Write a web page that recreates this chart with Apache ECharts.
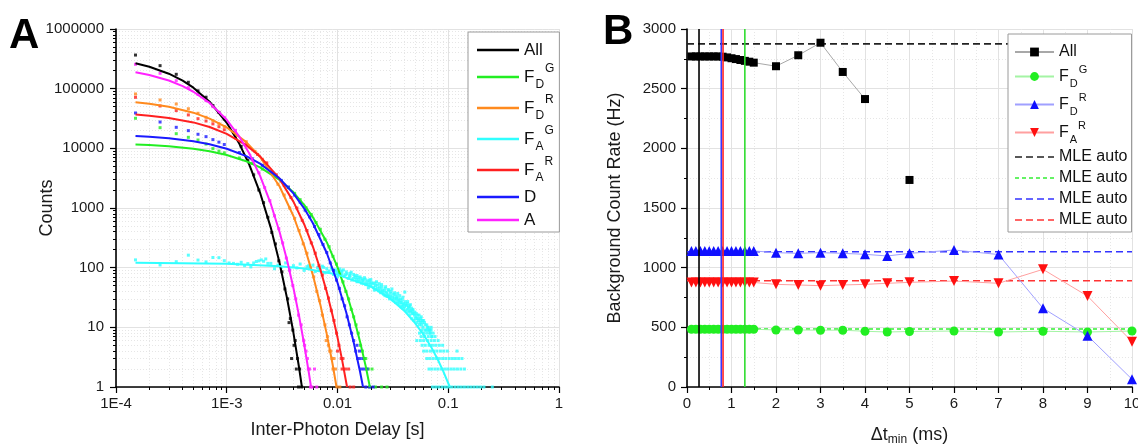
<!DOCTYPE html>
<html><head><meta charset="utf-8">
<script src="https://cdn.jsdelivr.net/npm/echarts@6/dist/echarts.min.js"></script>
<style>html,body{margin:0;padding:0;background:#fff}#c{width:1138px;height:447px}</style>
</head><body><div id="c"></div><script>
// ---------------- Panel A data (Inter-photon delay histograms, log-log) ----------------
const xTickLabelsA = ['1E-4','1E-3','0.01','0.1','1'];
const yTickLabelsA = ['1','10','100','1000','10000','100000','1000000'];
const seriesNamesA = ['All','FDG','FDR','FAG','FAR','D','A'];

const curveAll = [[1.5e-4,267000],[2e-4,233000],[3e-4,178000],[4e-4,136000],[5e-4,104000],[7e-4,60400],[1e-3,26800],[1.3e-3,11900],[1.6e-3,5300],[2e-3,1800],[2.5e-3,465],[3e-3,120],[3.5e-3,31],[4e-3,8.1],[4.5e-3,2.1],[4.77e-3,1]];
const curveFDG = [[1.5e-4,11600],[2e-4,11400],[3e-4,10800],[5e-4,9830],[7e-4,8930],[1e-3,7730],[1.5e-3,6080],[2e-3,4780],[3e-3,2960],[4e-3,1830],[5e-3,1130],[6e-3,698],[8e-3,267],[1e-2,102],[1.2e-2,39],[1.4e-2,14.9],[1.6e-2,5.7],[1.8e-2,2.2],[1.96e-2,1]];
const curveFDR = [[1.5e-4,59000],[2e-4,55800],[3e-4,49700],[5e-4,39600],[7e-4,31500],[1e-3,22400],[1.5e-3,12700],[2e-3,7170],[3e-3,2295],[4e-3,735],[5e-3,235],[6e-3,75],[7e-3,24],[8e-3,7.7],[9e-3,2.5],[9.8e-3,1]];
const curveFAG = [[1.5e-4,121],[1e-3,116.5],[3e-3,106],[5e-3,96.7],[1e-2,76.6],[2e-2,48.1],[3e-2,30.2],[4e-2,19],[5e-2,11.9],[6e-2,7.5],[7e-2,4.7],[8e-2,2.95],[9e-2,1.85],[0.1033,1]];
const curveFAR = [[1.5e-4,36900],[2e-4,35200],[3e-4,32300],[5e-4,27200],[7e-4,22800],[1e-3,17500],[1.5e-3,11300],[2e-3,7330],[3e-3,3060],[4e-3,1280],[5e-3,535],[6e-3,224],[7e-3,93],[8e-3,39],[9e-3,16.3],[1e-2,6.8],[1.1e-2,2.85],[1.22e-2,1]];
const curveD = [[1.5e-4,16100],[2e-4,15600],[3e-4,14750],[5e-4,13100],[7e-4,11700],[1e-3,9840],[1.5e-3,7390],[2e-3,5540],[3e-3,3120],[4e-3,1755],[5e-3,988],[6e-3,556],[8e-3,176],[1e-2,55.9],[1.2e-2,17.7],[1.4e-2,5.6],[1.6e-2,1.78],[1.7e-2,1]];
const curveA = [[1.5e-4,189000],[2e-4,170000],[3e-4,137000],[4e-4,110000],[5e-4,88800],[7e-4,57700],[1e-3,30100],[1.3e-3,15700],[1.6e-3,8200],[2e-3,3450],[2.5e-3,1170],[3e-3,396],[3.5e-3,134],[4e-3,45.5],[4.5e-3,15.4],[5e-3,5.2],[5.5e-3,1.77],[5.77e-3,1]];

const ptsAll = [[1.5e-4,366000],[2.5e-4,243000],[3.5e-4,174000],[4.5e-4,128000],[5.5e-4,92000],[6.5e-4,72000],[7.5e-4,52000],[8.5e-4,40000],[9.5e-4,31000],[1.15e-3,18500],[1.35e-3,10800],[1.55e-3,6300],[1.75e-3,3600],[1.95e-3,2000],[2.15e-3,1230],[2.35e-3,700],[2.55e-3,390],[2.75e-3,250],[2.95e-3,130],[3.15e-3,85],[3.35e-3,44],[3.55e-3,30],[3.65e-3,12],[3.75e-3,14],[3.85e-3,3],[3.95e-3,9],[4.05e-3,5],[4.15e-3,6],[4.25e-3,2],[4.35e-3,3],[4.45e-3,1],[4.55e-3,2],[4.75e-3,1]];
const ptsFDG = [[1.5e-4,31900],[2.5e-4,22200],[3.5e-4,17600],[4.5e-4,15300],[5.5e-4,13800],[6.5e-4,11800],[7.5e-4,9900],[8.5e-4,9000],[9.5e-4,8400],[1.3e-3,6900],[1.7e-3,5600],[2.1e-3,4500],[2.6e-3,3600],[3.1e-3,2850],[3.6e-3,2200],[4.1e-3,1760],[4.6e-3,1380],[5.2e-3,1010],[5.8e-3,780],[6.4e-3,570],[7e-3,440],[7.7e-3,300],[8.4e-3,225],[9.1e-3,155],[9.8e-3,115],[1.05e-2,78],[1.12e-2,58],[1.19e-2,40],[1.26e-2,30],[1.33e-2,20],[1.4e-2,15],[1.47e-2,11],[1.54e-2,8],[1.61e-2,5],[1.68e-2,4],[1.75e-2,3],[1.8e-2,3],[1.9e-2,2],[1.95e-2,1],[2.05e-2,2],[2.2e-2,1],[2.5e-2,1],[2.8e-2,1]];
const ptsFDR = [[1.5e-4,81500],[2.5e-4,64600],[3.5e-4,55400],[4.5e-4,46100],[5.5e-4,38700],[6.5e-4,33100],[7.5e-4,29000],[8.5e-4,25800],[9.5e-4,23200],[1.2e-3,18200],[1.5e-3,12900],[1.8e-3,8900],[2.1e-3,6500],[2.5e-3,4100],[2.9e-3,2500],[3.3e-3,1650],[3.7e-3,1000],[4.1e-3,670],[4.5e-3,420],[4.9e-3,250],[5.3e-3,175],[5.7e-3,100],[6.1e-3,70],[6.5e-3,40],[6.9e-3,28],[7.3e-3,16],[7.7e-3,11],[7.9e-3,6],[8.1e-3,7],[8.3e-3,5],[8.5e-3,4],[8.7e-3,4],[8.9e-3,3],[9.1e-3,2],[9.3e-3,3],[9.6e-3,2],[9.9e-3,1],[1.05e-2,1]];
const ptsFAR = [[1.5e-4,71600],[2.5e-4,51300],[3.5e-4,42900],[4.5e-4,36300],[5.5e-4,31400],[6.5e-4,28700],[7.5e-4,25700],[8.5e-4,23000],[9.5e-4,20500],[1.2e-3,15000],[1.5e-3,11500],[1.9e-3,7900],[2.3e-3,5700],[2.8e-3,3600],[3.3e-3,2400],[3.8e-3,1500],[4.3e-3,1000],[4.8e-3,620],[5.3e-3,420],[5.8e-3,260],[6.3e-3,175],[6.8e-3,108],[7.3e-3,75],[7.8e-3,45],[8.3e-3,31],[8.8e-3,19],[9.3e-3,13],[9.8e-3,8],[1.0e-2,4],[1.03e-2,5],[1.08e-2,3],[1.1e-2,2],[1.12e-2,3],[1.18e-2,2],[1.26e-2,2],[1.3e-2,1],[1.4e-2,1]];
const ptsD = [[1.5e-4,39100],[2.5e-4,27600],[3.5e-4,22500],[4.5e-4,19800],[5.5e-4,17200],[6.5e-4,15700],[7.5e-4,14000],[8.5e-4,12700],[9.5e-4,11600],[1.3e-3,8500],[1.7e-3,6700],[2.1e-3,5200],[2.6e-3,3950],[3.1e-3,2900],[3.6e-3,2250],[4.1e-3,1650],[4.6e-3,1250],[5.1e-3,920],[5.6e-3,710],[6.2e-3,490],[6.8e-3,360],[7.4e-3,245],[8e-3,180],[8.6e-3,120],[9.2e-3,90],[9.8e-3,62],[1.04e-2,45],[1.1e-2,30],[1.16e-2,23],[1.22e-2,15],[1.28e-2,11],[1.34e-2,8],[1.4e-2,6],[1.46e-2,4],[1.5e-2,5],[1.52e-2,3],[1.58e-2,4],[1.6e-2,3],[1.65e-2,2],[1.7e-2,3],[1.75e-2,2],[1.8e-2,1],[1.85e-2,2],[1.95e-2,1],[2.1e-2,1]];
const ptsA = [[1.5e-4,256000],[2.5e-4,181000],[3.5e-4,136000],[4.5e-4,104000],[5.5e-4,80000],[6.5e-4,63000],[7.5e-4,50000],[8.5e-4,40000],[9.5e-4,33000],[1.2e-3,20000],[1.45e-3,11600],[1.7e-3,6500],[1.95e-3,3900],[2.2e-3,2200],[2.45e-3,1330],[2.7e-3,740],[2.95e-3,450],[3.2e-3,260],[3.45e-3,145],[3.7e-3,90],[3.95e-3,50],[4.2e-3,30],[4.45e-3,16],[4.7e-3,11],[4.95e-3,6],[5.05e-3,5],[5.2e-3,4],[5.35e-3,3],[5.45e-3,2],[5.6e-3,2],[5.7e-3,1],[5.9e-3,1],[6.2e-3,2],[6.5e-3,1]];
// F_A^G: early bins + noisy cloud
const ptsFAG = [[1.5e-4,135],[2.5e-4,111],[3.5e-4,126],[4.5e-4,162],[5.5e-4,134],[6.5e-4,125],[7.5e-4,148],[8.5e-4,147],[9.5e-4,131],[1.05e-3,120],[1.15e-3,118],[1.25e-3,114],[1.35e-3,123],[1.45e-3,108],[1.55e-3,117],[1.65e-3,103],[1.75e-3,120],[1.85e-3,127],[1.95e-3,130],[2.05e-3,135],[2.15e-3,128],[2.25e-3,140],[2.35e-3,118],
[2.5e-3,118],[2.7e-3,96],[2.9e-3,110],[3.1e-3,101],[3.4e-3,120],[3.7e-3,93],[4.0e-3,108],[4.3e-3,99],[4.6e-3,115],[5.0e-3,90],[5.3e-3,104],[5.6e-3,97],[6.0e-3,110],[6.3e-3,86],[6.6e-3,100],[7.0e-3,94],[7.3e-3,106],[7.7e-3,82],[8.0e-3,96],[8.4e-3,88],[8.8e-3,99],[9.2e-3,77],[9.6e-3,92],[1.0e-2,84],[1.0e-2,70],[1.05e-2,95],[1.1e-2,78],[1.1e-2,88],[1.15e-2,72],[1.2e-2,85],[1.25e-2,66],[1.3e-2,80],[1.3e-2,74],[1.35e-2,62],[1.4e-2,77],[1.45e-2,68],[1.5e-2,58],[1.5e-2,74],[1.55e-2,64],[1.6e-2,70],[1.65e-2,55],[1.7e-2,63],[1.75e-2,68],[1.8e-2,52],[1.85e-2,60],[1.9e-2,46],[1.95e-2,57],[2.0e-2,63],[2.0e-2,49],[2.1e-2,54],[2.15e-2,42],[2.2e-2,50],[2.25e-2,58],[2.3e-2,45],[2.4e-2,48],[2.45e-2,38],[2.5e-2,52],[2.55e-2,42],[2.6e-2,36],[2.7e-2,45],[2.75e-2,39],[2.8e-2,33],[2.9e-2,41],[2.95e-2,30],[3.0e-2,37],[3.1e-2,44],[3.15e-2,32],[3.2e-2,28],[3.3e-2,35],[3.35e-2,26],[3.4e-2,31],[3.5e-2,37],[3.55e-2,27],[3.6e-2,24],[3.7e-2,30],[3.75e-2,22],[3.8e-2,26],[3.9e-2,32],[3.95e-2,21],[4.0e-2,25],[4.05e-2,39],[4.1e-2,19],[4.2e-2,23],[4.3e-2,27],[4.35e-2,18],[4.4e-2,21],[4.5e-2,16],[4.55e-2,24],[4.6e-2,19],[4.7e-2,14],[4.8e-2,20],[4.85e-2,17],[4.9e-2,13],[5.0e-2,18],[5.1e-2,15],[5.2e-2,12],[5.3e-2,16],[5.4e-2,14],[5.5e-2,11],[5.6e-2,13],[5.7e-2,15],[5.8e-2,12],[5.9e-2,10],[6.0e-2,13],[6.2e-2,11],[6.3e-2,9],[6.5e-2,10],[6.7e-2,9],[6.9e-2,8],[7.1e-2,7]];
const ptsFAGcloud2 = [[5.5e-3,108],[6.8e-3,92],[7.5e-3,101],[8.2e-3,84],[9.0e-3,93],[9.4e-3,86],[1.02e-2,79],[1.08e-2,86],[1.13e-2,92],[1.18e-2,76],[1.22e-2,79],[1.28e-2,71],[1.33e-2,84],[1.38e-2,66],[1.43e-2,73],[1.48e-2,63],[1.53e-2,69],[1.58e-2,59],[1.63e-2,66],[1.68e-2,61],[1.73e-2,56],[1.78e-2,64],[1.83e-2,55],[1.88e-2,52],[1.93e-2,62],[1.98e-2,53],[2.05e-2,56],[2.12e-2,47],[2.18e-2,55],[2.22e-2,44],[2.28e-2,51],[2.35e-2,41],[2.38e-2,54],[2.42e-2,44],[2.48e-2,40],[2.52e-2,47],[2.58e-2,39],[2.65e-2,41],[2.68e-2,34],[2.72e-2,48],[2.78e-2,37],[2.85e-2,35],[2.88e-2,43],[2.92e-2,33],[3.02e-2,33],[3.05e-2,40],[3.12e-2,29],[3.18e-2,36],[3.25e-2,31],[3.28e-2,38],[3.38e-2,29],[3.45e-2,33],[3.48e-2,25],[3.52e-2,30],[3.62e-2,28],[3.65e-2,34],[3.72e-2,26],[3.82e-2,23],[3.85e-2,29],[3.92e-2,24],[4.02e-2,22],[4.08e-2,27],[4.15e-2,24],[4.25e-2,20],[4.28e-2,25],[4.38e-2,22],[4.45e-2,19],[4.48e-2,23],[4.58e-2,18],[4.65e-2,21],[4.75e-2,17],[4.78e-2,19],[4.95e-2,16],[5.05e-2,14],[5.15e-2,17],[5.25e-2,14],[5.35e-2,13],[5.45e-2,16],[5.55e-2,12],[5.65e-2,14],[5.75e-2,11],[5.85e-2,13],[6.1e-2,12],[6.4e-2,11],[6.6e-2,10],[6.8e-2,9],[7.0e-2,10]];
// F_A^G low-count tail: integer count rows and the delays where they occur
const fagRowCounts = [9,8,7,6,5,4,3,2,1];
const fagRowDelays = [
  [0.058,0.062,0.066,0.07],
  [0.055,0.06,0.064,0.068,0.073],
  [0.057,0.061,0.066,0.071,0.076],
  [0.052,0.056,0.06,0.065,0.07,0.075,0.081],
  [0.058,0.062,0.067,0.072,0.077,0.083,0.089],
  [0.06,0.064,0.069,0.074,0.079,0.085,0.091,0.098,0.12],
  [0.064,0.068,0.073,0.078,0.083,0.089,0.095,0.102,0.109,0.116,0.124,0.133],
  [0.067,0.071,0.076,0.081,0.087,0.093,0.099,0.106,0.113,0.121,0.13,0.14],
  [0.072,0.077,0.082,0.088,0.094,0.1,0.107,0.115,0.123,0.131,0.14,0.15,0.16,0.171,0.183,0.196,0.21,0.25]
];

// ---------------- Panel B data (background count rate vs Δt_min) ----------------
const xB = [0.1,0.2,0.3,0.4,0.5,0.6,0.7,0.8,0.9,1.0,1.1,1.2,1.3,1.4,1.5,2,2.5,3,3.5,4,4.5,5,6,7,8,9,10];
const allB = [2770,2770,2770,2770,2770,2770,2770,2768,2762,2755,2748,2740,2733,2726,2718,2688,2780,2885,2640,2413,null,1735,null,null,null,null,null];
const fdgB = [484,484,484,484,484,484,484,484,484,484,484,484,484,484,484,478,478,476,476,467,461,465,469,461,467,461,469];
const fdrB = [1140,1140,1140,1140,1140,1140,1140,1140,1140,1140,1140,1140,1140,1140,1140,1126,1120,1126,1120,1112,1098,1120,1148,1110,660,430,65];
const farB = [876,876,876,876,876,876,876,876,876,876,876,876,876,876,876,860,855,849,855,860,869,877,888,869,986,762,380];
const mleValues = [2875,486,1134,890];           // All, FDG, FDR, FAR "MLE auto"
const vLineX = [0.27,0.77,0.81,1.3];              // black, blue, red, green
const xRangeB = [0,10];
const yRangeB = [0,3000];

// ---------------- styling ----------------
const FONT = '"Liberation Sans", Arial, Helvetica, sans-serif';
const colA = {All:'#000000',FDG:'#22ee22',FDR:'#ff8a1e',FAG:'#30ffff',FAR:'#ff2020',D:'#1a1aff',A:'#ff22ff'};
const curvesA = {All:curveAll,FDG:curveFDG,FDR:curveFDR,FAG:curveFAG,FAR:curveFAR,D:curveD,A:curveA};
const ptsAMap = {All:ptsAll,FDG:ptsFDG,FDR:ptsFDR,FAG:ptsFAG,FAR:ptsFAR,D:ptsD,A:ptsA};

const fagTail = [];
fagRowCounts.forEach((c,i)=>fagRowDelays[i].forEach(x=>fagTail.push([x,c])));

const minorX = [], minorY = [];
for (let e=-4;e<=-1;e++) for (let k=2;k<=9;k++) minorX.push(+(k*Math.pow(10,e)).toPrecision(6));
for (let e=0;e<=5;e++) for (let k=2;k<=9;k++) minorY.push(+(k*Math.pow(10,e)).toPrecision(6));

const legendRich = {
  m:{fontSize:17,lineHeight:28,fontFamily:FONT,color:'#111'},
  sub:{fontSize:12,lineHeight:10,verticalAlign:'bottom',fontFamily:FONT,color:'#111',padding:[0,1,0,1]},
  sup:{fontSize:12,lineHeight:18,verticalAlign:'top',fontFamily:FONT,color:'#111'}
};
const legendRichB = {
  m:{fontSize:16,lineHeight:25,fontFamily:FONT,color:'#111'},
  sub:{fontSize:11,lineHeight:9,verticalAlign:'bottom',fontFamily:FONT,color:'#111',padding:[0,1,0,1]},
  sup:{fontSize:11,lineHeight:16,verticalAlign:'top',fontFamily:FONT,color:'#111'}
};
const labelText = {
  All:'All', FDG:'{m|F}{sub|D}{sup|G}', FDR:'{m|F}{sub|D}{sup|R}', FAG:'{m|F}{sub|A}{sup|G}',
  FAR:'{m|F}{sub|A}{sup|R}', D:'D', A:'A',
  All_B:'All', FDG_B:'{m|F}{sub|D}{sup|G}', FDR_B:'{m|F}{sub|D}{sup|R}', FAR_B:'{m|F}{sub|A}{sup|R}',
  MLE_k:'MLE auto', MLE_g:'MLE auto', MLE_b:'MLE auto', MLE_r:'MLE auto'
};

const axisLineStyle = {color:'#000',width:1.6};
const tickLabel = {fontSize:15,fontFamily:FONT,color:'#1a1a1a'};
const majorGrid = {show:true,lineStyle:{color:'#e2e2e2',width:1}};
const minorGrid = {show:true,lineStyle:{color:'#e6e6e6',width:1,type:[1,2]}};

const series = [];
// A scatter (data points)
seriesNamesA.forEach(n=>{
  series.push({name:'pts_'+n,type:'scatter',xAxisIndex:0,yAxisIndex:0,
    data: n==='FAG' ? ptsAMap[n].concat(ptsFAGcloud2, fagTail) : ptsAMap[n],
    symbol:'rect',symbolSize:3,clip:false,itemStyle:{color:colA[n]},silent:true,z:2});
});
// A fit curves
seriesNamesA.forEach(n=>{
  series.push({name:n,type:'line',xAxisIndex:0,yAxisIndex:0,data:curvesA[n],
    symbol:'none',smooth:false,lineStyle:{color:colA[n],width:2},itemStyle:{color:colA[n]},silent:true,z:3});
});
// B MLE auto dashed lines
const mleNames = ['MLE_k','MLE_g','MLE_b','MLE_r'];
const mleColors = ['#222222','#33ee33','#3333ff','#ff3333'];
const mleDash = [[7,4],[4,3],[7,4],[7,4]];
const mleIcons = [
  'path://M0,0h7v1.6h-7zM11,0h7v1.6h-7zM22,0h7v1.6h-7zM33,0h6v1.6h-6z',
  'path://M0,0h4v1.6h-4zM7,0h4v1.6h-4zM14,0h4v1.6h-4zM21,0h4v1.6h-4zM28,0h4v1.6h-4zM35,0h4v1.6h-4z',
  'path://M0,0h7v1.6h-7zM11,0h7v1.6h-7zM22,0h7v1.6h-7zM33,0h6v1.6h-6z',
  'path://M0,0h7v1.6h-7zM11,0h7v1.6h-7zM22,0h7v1.6h-7zM33,0h6v1.6h-6z'
];
mleNames.forEach((n,i)=>{
  series.push({name:n,type:'line',xAxisIndex:2,yAxisIndex:2,
    data:[[xRangeB[0],mleValues[i]],[xRangeB[1],mleValues[i]]],symbol:'none',
    lineStyle:{color:mleColors[i],width:1.6,type:mleDash[i]},itemStyle:{color:mleColors[i]},silent:true,z:2});
});
// B measured series
const bDefs = [
  {name:'All_B',vals:allB,sym:'rect',size:8,rot:0,c:'#000000',lc:'#a8a8a8'},
  {name:'FDG_B',vals:fdgB,sym:'circle',size:9,rot:0,c:'#22ee22',lc:'#a4f4a4'},
  {name:'FDR_B',vals:fdrB,sym:'triangle',size:10,rot:0,c:'#1010ff',lc:'#a0a0ff'},
  {name:'FAR_B',vals:farB,sym:'triangle',size:10,rot:180,c:'#ff1010',lc:'#ffa0a0'}
];
bDefs.forEach(d=>{
  series.push({name:d.name,type:'line',xAxisIndex:2,yAxisIndex:2,
    data:xB.map((x,i)=>[x,d.vals[i]]),symbol:d.sym,symbolSize:d.size,symbolRotate:d.rot,
    showAllSymbol:true,connectNulls:false,
    lineStyle:{color:d.lc,width:1},itemStyle:{color:d.c},silent:true,z:3});
});
// B vertical threshold lines
const vColors = ['#000000','#3838ff','#ff2626','#30dd30'];
vLineX.forEach((x,i)=>{
  series.push({name:'v'+i,type:'line',xAxisIndex:2,yAxisIndex:2,
    data:[[x,yRangeB[0]],[x,yRangeB[1]]],symbol:'none',
    lineStyle:{color:vColors[i],width:1.6},silent:true,z:4});
});

const option = {
  animation:false,
  backgroundColor:'#ffffff',
  textStyle:{fontFamily:FONT},
  grid:[
    {left:116,top:29,width:443,height:358,outerBoundsMode:'none',containLabel:false},
    {left:687,top:29,width:445,height:358,outerBoundsMode:'none',containLabel:false}
  ],
  xAxis:[
    {gridIndex:0,type:'log',logBase:10,min:1e-4,max:1,splitNumber:4,
     axisLine:{show:true,onZero:false,lineStyle:axisLineStyle},
     axisTick:{show:true,inside:false,length:6,lineStyle:{color:'#000',width:1.2}},
     axisLabel:{...tickLabel,margin:9,formatter:v=>xTickLabelsA[Math.round(Math.log10(v))+4]},
     splitLine:majorGrid,
     name:'Inter-Photon Delay [s]',nameLocation:'middle',nameGap:32,nameMoveOverlap:false,
     nameTextStyle:{fontSize:18,lineHeight:22,fontFamily:FONT,color:'#1a1a1a'}},
    {gridIndex:0,type:'log',logBase:10,min:1e-4,max:1,position:'bottom',
     axisLine:{show:false},axisLabel:{show:false},
     axisTick:{show:true,inside:false,length:3,customValues:minorX,lineStyle:{color:'#000',width:1}},
     splitLine:{...minorGrid,customValues:minorX}},
    {gridIndex:1,type:'value',min:xRangeB[0],max:xRangeB[1],interval:1,
     axisLine:{show:true,onZero:false,lineStyle:axisLineStyle},
     axisTick:{show:true,inside:false,length:6,lineStyle:{color:'#000',width:1.2}},
     minorTick:{show:true,splitNumber:2,length:3,lineStyle:{color:'#000',width:1}},
     axisLabel:{...tickLabel,margin:9,formatter:v=>String(v)},
     splitLine:majorGrid,minorSplitLine:minorGrid,
     name:'{m|Δt}{s|min}{m| (ms)}',nameLocation:'middle',nameGap:37,nameMoveOverlap:false,
     nameTextStyle:{rich:{m:{fontSize:18,lineHeight:22,fontFamily:FONT,color:'#1a1a1a'},
                          s:{fontSize:12,lineHeight:2,verticalAlign:'bottom',fontFamily:FONT,color:'#1a1a1a'}}}}
  ],
  yAxis:[
    {gridIndex:0,type:'log',logBase:10,min:1,max:1e6,splitNumber:6,
     axisLine:{show:true,onZero:false,lineStyle:axisLineStyle},
     axisTick:{show:true,inside:false,length:6,lineStyle:{color:'#000',width:1.2}},
     axisLabel:{...tickLabel,margin:12,formatter:v=>yTickLabelsA[Math.round(Math.log10(v))]},
     splitLine:majorGrid,
     name:'Counts',nameLocation:'middle',nameGap:58,nameMoveOverlap:false,
     nameTextStyle:{fontSize:18,lineHeight:22,fontFamily:FONT,color:'#1a1a1a'}},
    {gridIndex:0,type:'log',logBase:10,min:1,max:1e6,position:'left',
     axisLine:{show:false},axisLabel:{show:false},
     axisTick:{show:true,inside:false,length:3,customValues:minorY,lineStyle:{color:'#000',width:1}},
     splitLine:{...minorGrid,customValues:minorY}},
    {gridIndex:1,type:'value',min:yRangeB[0],max:yRangeB[1],interval:500,
     axisLine:{show:true,onZero:false,lineStyle:axisLineStyle},
     axisTick:{show:true,inside:false,length:6,lineStyle:{color:'#000',width:1.2}},
     minorTick:{show:true,splitNumber:2,length:3,lineStyle:{color:'#000',width:1}},
     axisLabel:{...tickLabel,margin:11,formatter:v=>String(v)},
     splitLine:majorGrid,minorSplitLine:minorGrid,
     name:'Background Count Rate (Hz)',nameLocation:'middle',nameGap:61,nameMoveOverlap:false,
     nameTextStyle:{fontSize:18,lineHeight:22,fontFamily:FONT,color:'#1a1a1a'}}
  ],
  legend:[
    {data:seriesNamesA,orient:'vertical',left:468,top:32,selectedMode:false,icon:'rect',
     itemWidth:42,itemHeight:2.5,itemGap:3,padding:[8,5,2,9],
     backgroundColor:'#ffffff',borderColor:'#9a9a9a',borderWidth:1,
     formatter:n=>labelText[n],
     textStyle:{fontSize:17,lineHeight:20,fontFamily:FONT,color:'#111',rich:legendRich}},
    {data:['All_B','FDG_B','FDR_B','FAR_B'].concat(mleNames.map((n,i)=>({name:n,icon:mleIcons[i]}))),
     orient:'vertical',left:1008,top:34,selectedMode:false,
     itemWidth:39,itemHeight:11,itemGap:3,padding:[9,4,3,6],
     backgroundColor:'#ffffff',borderColor:'#9a9a9a',borderWidth:1,
     formatter:n=>labelText[n],
     textStyle:{fontSize:16,lineHeight:18,fontFamily:FONT,color:'#111',rich:legendRichB}}
  ],
  graphic:[
    {type:'text',left:9,top:15,style:{text:'A',font:'bold 42px '+FONT,fill:'#000'}},
    {type:'text',left:603,top:11,style:{text:'B',font:'bold 42px '+FONT,fill:'#000'}}
  ],
  series:series
};
const chart = echarts.init(document.getElementById('c'),null,{renderer:'canvas'});
chart.setOption(option);
</script></body></html>
